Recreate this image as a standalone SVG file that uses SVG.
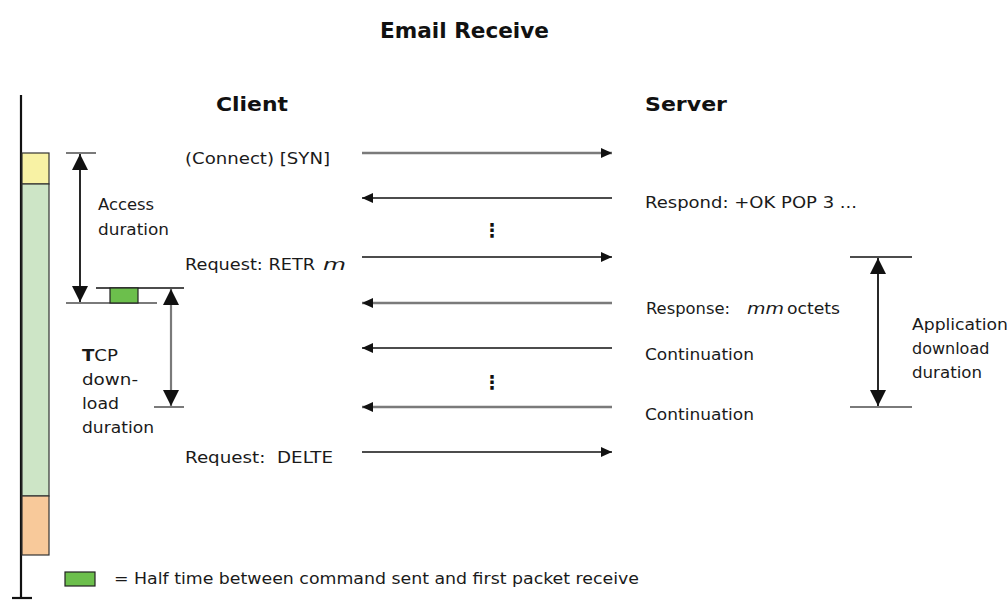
<svg xmlns="http://www.w3.org/2000/svg" width="1007" height="601" viewBox="0 0 1007 601">
  <style>
    text { font-family: "DejaVu Sans", Verdana, sans-serif; fill: #1a1a1a; }
    .t { font-size: 16px; }
    .h { font-size: 19px; font-weight: bold; fill: #111; }
    .title { font-size: 21px; font-weight: bold; fill: #111; }
    .it { font-style: italic; }
    .dots { font-size: 19px; font-weight: bold; fill: #111; }
    .msg { fill: none; stroke: #111; stroke-width: 1.6; }
    .msg.g { stroke: #7a7a7a; stroke-width: 2.6; }
    .dim { fill: none; stroke: #111; stroke-width: 1.8; }
    .dim.g { stroke: #7a7a7a; stroke-width: 2.2; }
    .tick { fill: none; stroke: #111; stroke-width: 1.6; }
    .tick.g { stroke: #7a7a7a; stroke-width: 2; }
    .bar { stroke: #333; stroke-width: 1.2; }
  </style>
  <defs>
    <marker id="ah" markerUnits="userSpaceOnUse" markerWidth="12" markerHeight="10" refX="11" refY="5" orient="auto-start-reverse">
      <path d="M0,0 L11,5 L0,10 Z" fill="#111"/>
    </marker>
    <marker id="dh" markerUnits="userSpaceOnUse" markerWidth="17" markerHeight="16" refX="16" refY="8" orient="auto-start-reverse">
      <path d="M0,0 L16,8 L0,16 Z" fill="#111"/>
    </marker>
  </defs>

  <!-- title and column headings -->
  <text class="title" x="380" y="38" textLength="169" lengthAdjust="spacingAndGlyphs">Email Receive</text>
  <text class="h" x="216" y="111" textLength="72" lengthAdjust="spacingAndGlyphs">Client</text>
  <text class="h" x="645" y="111" textLength="82" lengthAdjust="spacingAndGlyphs">Server</text>

  <!-- time axis with phase bar -->
  <g id="timeline">
    <line x1="21" y1="95" x2="21" y2="598" stroke="#111" stroke-width="2.2"/>
    <line x1="12" y1="598" x2="32" y2="598" stroke="#111" stroke-width="2.2"/>
    <rect class="bar" x="22" y="153" width="27" height="31" fill="#f8f2a4"/>
    <rect class="bar" x="22" y="184" width="27" height="312" fill="#cde5c6"/>
    <rect class="bar" x="22" y="496" width="27" height="59" fill="#f8c99a"/>
  </g>

  <!-- access duration -->
  <g id="access-duration">
    <line class="tick g" x1="66" y1="153" x2="96" y2="153"/>
    <line class="tick g" x1="66" y1="303" x2="157" y2="303"/>
    <line class="dim" x1="80" y1="154" x2="80" y2="302" marker-start="url(#dh)" marker-end="url(#dh)"/>
    <text class="t" x="98" y="210" textLength="56" lengthAdjust="spacingAndGlyphs">Access</text>
    <text class="t" x="98" y="235" textLength="71" lengthAdjust="spacingAndGlyphs">duration</text>
  </g>

  <!-- half time marker -->
  <g id="half-time">
    <line class="tick" x1="96" y1="288" x2="184" y2="288"/>
    <rect x="110" y="288" width="28" height="15" fill="#6cbf4c" stroke="#222" stroke-width="1.2"/>
  </g>

  <!-- TCP download duration -->
  <g id="tcp-duration">
    <line class="tick g" x1="154" y1="407" x2="184" y2="407"/>
    <line class="dim g" x1="171" y1="289" x2="171" y2="406" marker-start="url(#dh)" marker-end="url(#dh)"/>
    <text class="t" x="82" y="361" textLength="36" lengthAdjust="spacingAndGlyphs"><tspan font-weight="bold">T</tspan>CP</text>
    <text class="t" x="82" y="385" textLength="56" lengthAdjust="spacingAndGlyphs">down-</text>
    <text class="t" x="82" y="409" textLength="37" lengthAdjust="spacingAndGlyphs">load</text>
    <text class="t" x="82" y="433" textLength="72" lengthAdjust="spacingAndGlyphs">duration</text>
  </g>

  <!-- application download duration -->
  <g id="app-duration">
    <line class="tick" x1="850" y1="257" x2="912" y2="257"/>
    <line class="tick g" x1="850" y1="407" x2="912" y2="407"/>
    <line class="dim" x1="878" y1="258" x2="878" y2="406" marker-start="url(#dh)" marker-end="url(#dh)"/>
    <text class="t" x="912" y="330" textLength="96" lengthAdjust="spacingAndGlyphs">Application</text>
    <text class="t" x="912" y="354">download</text>
    <text class="t" x="912" y="378" textLength="70" lengthAdjust="spacingAndGlyphs">duration</text>
  </g>

  <!-- client side labels -->
  <g id="client-labels">
    <text class="t" x="185" y="164" textLength="145" lengthAdjust="spacingAndGlyphs">(Connect) [SYN]</text>
    <text class="t" x="185" y="270" textLength="130" lengthAdjust="spacingAndGlyphs">Request: RETR</text>
    <text class="t it" x="323" y="270" textLength="23" lengthAdjust="spacingAndGlyphs">m</text>
    <text class="t" x="185" y="463" xml:space="preserve" textLength="148" lengthAdjust="spacingAndGlyphs">Request:  DELTE</text>
  </g>

  <!-- server side labels -->
  <g id="server-labels">
    <text class="t" x="645" y="208" textLength="212" lengthAdjust="spacingAndGlyphs">Respond: +OK POP 3 ...</text>
    <text class="t" x="646" y="314" textLength="84" lengthAdjust="spacingAndGlyphs">Response:</text>
    <text class="t it" x="747" y="314" textLength="37" lengthAdjust="spacingAndGlyphs">mm</text>
    <text class="t" x="787" y="314" textLength="53" lengthAdjust="spacingAndGlyphs">octets</text>
    <text class="t" x="645" y="360" textLength="109" lengthAdjust="spacingAndGlyphs">Continuation</text>
    <text class="t" x="645" y="420" textLength="109" lengthAdjust="spacingAndGlyphs">Continuation</text>
  </g>

  <!-- message exchange -->
  <g id="connectors">
    <line class="msg g" x1="362" y1="153" x2="612" y2="153" marker-end="url(#ah)"/>
    <line class="msg" x1="612" y1="198" x2="362" y2="198" marker-end="url(#ah)"/>
    <line class="msg" x1="362" y1="257" x2="612" y2="257" marker-end="url(#ah)"/>
    <line class="msg g" x1="612" y1="303" x2="362" y2="303" marker-end="url(#ah)"/>
    <line class="msg" x1="612" y1="348" x2="362" y2="348" marker-end="url(#ah)"/>
    <line class="msg g" x1="612" y1="407" x2="362" y2="407" marker-end="url(#ah)"/>
    <line class="msg" x1="362" y1="452" x2="612" y2="452" marker-end="url(#ah)"/>
  </g>
  <text class="dots" x="492" y="237" text-anchor="middle">⋮</text>
  <text class="dots" x="492" y="389" text-anchor="middle">⋮</text>

  <!-- legend -->
  <g id="legend">
    <rect x="65" y="572" width="30" height="14" fill="#6cbf4c" stroke="#222" stroke-width="1.2"/>
    <text class="t" x="114" y="584" textLength="525" lengthAdjust="spacingAndGlyphs">= Half time between command sent and first packet receive</text>
  </g>
</svg>
